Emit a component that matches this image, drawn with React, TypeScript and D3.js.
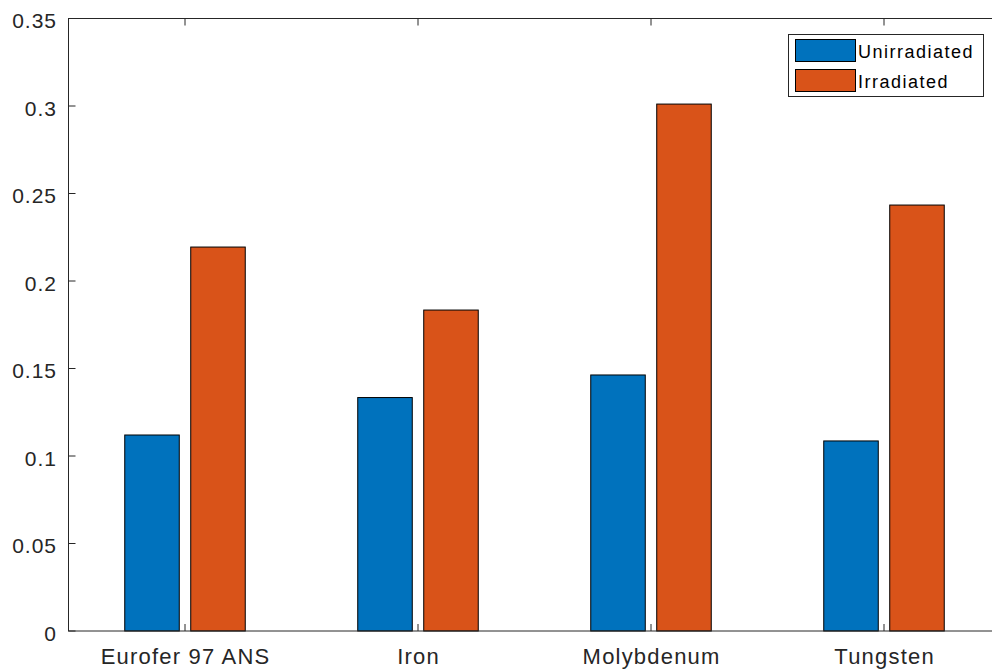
import React, { useEffect, useRef } from "react";
import * as d3 from "d3";

const categories = ["Eurofer 97 ANS", "Iron", "Molybdenum", "Tungsten"];
const seriesNames = ["Unirradiated", "Irradiated"];
const unirradiated = [0.112, 0.1334, 0.1463, 0.1086];
const irradiated = [0.2194, 0.1834, 0.3011, 0.2434];
const yTicks = [0, 0.05, 0.1, 0.15, 0.2, 0.25, 0.3, 0.35];
const yTickLabels = ["0", "0.05", "0.1", "0.15", "0.2", "0.25", "0.3", "0.35"];
const colors = ["#0072BD", "#D95319"];

const W = 992;
const H = 671;
const m = { left: 68.5, top: 18.5, right: 1000.5, bottom: 631 };
const FONT = "'Liberation Sans', Arial, Helvetica, sans-serif";
const AX = "#262626";

export default function App() {
  const ref = useRef<SVGSVGElement>(null);
  useEffect(() => {
    const svg = d3.select(ref.current);
    svg.selectAll("*").remove();
    const x = d3.scaleLinear().domain([0.5, 4.5]).range([m.left, m.right]);
    const y = d3.scaleLinear().domain([0, 0.35]).range([m.bottom, m.top]);
    const bw = 0.234;
    const off = 0.1416;
    const series = [unirradiated, irradiated];

    series.forEach((vals, si) => {
      svg
        .append("g")
        .selectAll("rect")
        .data(vals)
        .join("rect")
        .attr("x", (_d, i) => x(i + 1 + (si === 0 ? -off : off) - bw / 2))
        .attr("width", x(bw) - x(0))
        .attr("y", (d) => y(d))
        .attr("height", (d) => y(0) - y(d))
        .attr("fill", colors[si])
        .attr("stroke", "#000")
        .attr("stroke-width", 1);
    });

    const g = svg.append("g").attr("stroke", AX).attr("stroke-width", 1).attr("fill", "none");
    g.append("rect")
      .attr("x", m.left)
      .attr("y", m.top)
      .attr("width", m.right - m.left)
      .attr("height", m.bottom - m.top);
    const tl = 7;
    yTicks.forEach((t) => {
      g.append("line").attr("x1", m.left).attr("x2", m.left + tl).attr("y1", y(t)).attr("y2", y(t));
      g.append("line").attr("x1", m.right).attr("x2", m.right - tl).attr("y1", y(t)).attr("y2", y(t));
    });
    categories.forEach((_c, i) => {
      g.append("line").attr("x1", x(i + 1)).attr("x2", x(i + 1)).attr("y1", m.bottom).attr("y2", m.bottom - tl);
      g.append("line").attr("x1", x(i + 1)).attr("x2", x(i + 1)).attr("y1", m.top).attr("y2", m.top + tl);
    });

    svg
      .append("g")
      .selectAll("text")
      .data(yTicks)
      .join("text")
      .attr("x", 57)
      .attr("y", (d) => y(d) + 9.5)
      .attr("text-anchor", "end")
      .attr("font-family", FONT)
      .attr("font-size", 21)
      .attr("letter-spacing", 1.0)
      .attr("fill", AX)
      .text((_d, i) => yTickLabels[i]);

    svg
      .append("g")
      .selectAll("text")
      .data(categories)
      .join("text")
      .attr("x", (_d, i) => x(i + 1) + 0.6)
      .attr("y", 664)
      .attr("text-anchor", "middle")
      .attr("font-family", FONT)
      .attr("font-size", 22)
      .attr("letter-spacing", 1.2)
      .attr("fill", AX)
      .text((d) => d);

    const lg = svg.append("g");
    lg.append("rect")
      .attr("x", 788.5)
      .attr("y", 34.5)
      .attr("width", 195)
      .attr("height", 62)
      .attr("fill", "#fff")
      .attr("stroke", AX)
      .attr("stroke-width", 1);
    seriesNames.forEach((name, i) => {
      const yy = 39.5 + i * 30;
      lg.append("rect")
        .attr("x", 795.5)
        .attr("y", yy)
        .attr("width", 60)
        .attr("height", 22)
        .attr("fill", colors[i])
        .attr("stroke", "#000")
        .attr("stroke-width", 1);
      lg.append("text")
        .attr("x", 858)
        .attr("y", yy + 18.5)
        .attr("font-family", FONT)
        .attr("font-size", 18)
        .attr("letter-spacing", 1.5)
        .attr("fill", "#000")
        .text(name);
    });
  }, []);
  return (
    <svg
      ref={ref}
      width={W}
      height={H}
      style={{ position: "absolute", left: 0, top: 0, background: "#fff" }}
    />
  );
}
